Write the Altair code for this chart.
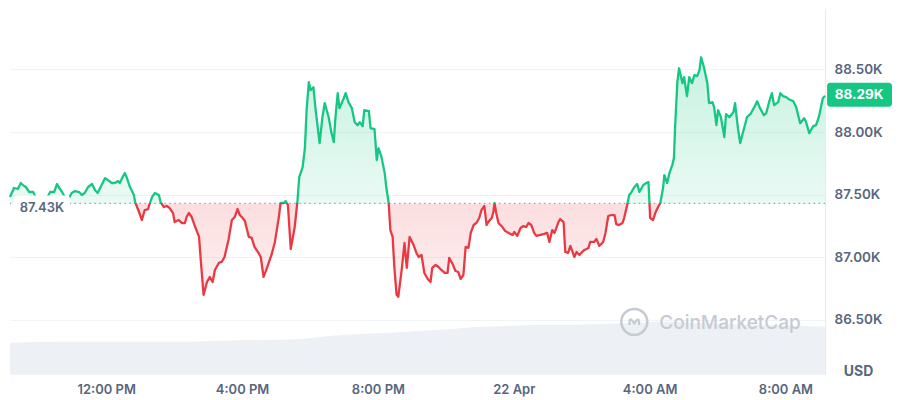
import altair as alt
import pandas as pd

# ---- data (minutes after 21 Apr 09:10, price in USD) ----
minutes = [0, 7, 14, 19, 25, 28, 34, 41, 49, 62, 71, 78, 83, 86, 92, 101, 109, 115, 122, 127,
           132, 138, 145, 150, 155, 161, 168, 173, 180, 185, 191, 194, 198, 203, 206, 212, 219, 221, 228, 233,
           238, 244, 246, 251, 256, 263, 266, 272, 277, 282, 288, 291, 298, 304, 309, 312, 316, 321, 326, 334,
           337, 342, 348, 353, 358, 362, 369, 374, 379, 386, 392, 397, 402, 406, 411, 415, 422, 427, 432, 439,
           443, 448, 454, 457, 462, 468, 475, 478, 484, 487, 491, 496, 503, 508, 511, 517, 521, 524, 528, 531,
           536, 540, 547, 552, 556, 563, 568, 572, 575, 579, 582, 589, 593, 598, 604, 609, 614, 618, 623, 626,
           634, 637, 644, 648, 651, 656, 662, 665, 669, 672, 676, 679, 683, 686, 692, 697, 701, 706, 713, 718,
           722, 727, 732, 738, 743, 746, 752, 757, 762, 768, 773, 776, 782, 787, 792, 796, 801, 805, 810, 814,
           819, 824, 829, 833, 838, 842, 845, 851, 854, 856, 859, 863, 870, 875, 881, 888, 891, 896, 902, 907,
           912, 916, 921, 926, 930, 937, 944, 949, 953, 958, 962, 969, 972, 978, 981, 986, 990, 997, 1001, 1006,
           1011, 1015, 1022, 1025, 1032, 1036, 1041, 1048, 1052, 1057, 1062, 1068, 1071, 1076, 1082, 1085, 1090, 1094, 1097, 1103,
           1108, 1112, 1119, 1124, 1128, 1131, 1136, 1140, 1145, 1149, 1154, 1156, 1161, 1165, 1170, 1173, 1175, 1179, 1182, 1188,
           1191, 1196, 1200, 1205, 1209, 1214, 1218, 1221, 1226, 1232, 1235, 1241, 1244, 1248, 1251, 1256, 1262, 1265, 1271, 1278,
           1281, 1286, 1290, 1297, 1302, 1308, 1315, 1320, 1325, 1332, 1336, 1341, 1346, 1350, 1357, 1361, 1366, 1371, 1376, 1384,
           1389, 1396, 1403, 1406, 1412, 1419, 1424, 1429, 1436, 1440]
prices = [87481, 87553, 87545, 87593, 87569, 87561, 87521, 87521, 87440, 87445, 87521, 87521, 87585, 87561, 87521, 87445, 87513, 87529, 87521, 87497,
          87513, 87561, 87585, 87537, 87513, 87569, 87632, 87616, 87593, 87593, 87608, 87593, 87632, 87672, 87640, 87561, 87497, 87441, 87361, 87297,
          87377, 87385, 87417, 87481, 87513, 87497, 87441, 87401, 87409, 87393, 87353, 87281, 87297, 87273, 87273, 87321, 87353, 87321, 87257, 87162,
          86978, 86699, 86802, 86842, 86802, 86898, 86954, 86962, 87002, 87138, 87297, 87321, 87385, 87337, 87313, 87289, 87162, 87154, 87082, 87034,
          87002, 86842, 86914, 86954, 87018, 87122, 87321, 87433, 87433, 87449, 87417, 87066, 87241, 87457, 87640, 87720, 87872, 88175, 88399, 88335,
          88359, 88175, 87912, 88119, 88231, 88119, 87992, 87920, 88119, 88311, 88191, 88263, 88311, 88239, 88191, 88079, 88055, 88079, 88047, 88175,
          88167, 88032, 88024, 87776, 87872, 87808, 87672, 87553, 87433, 87217, 87162, 86922, 86699, 86683, 86898, 87114, 86914, 87162, 87098, 87034,
          87002, 87018, 86874, 86826, 86802, 86914, 86938, 86922, 86898, 86874, 86874, 86994, 86946, 86890, 86882, 86826, 86858, 87082, 87074, 87194,
          87257, 87273, 87313, 87377, 87409, 87257, 87281, 87313, 87361, 87433, 87353, 87273, 87241, 87209, 87194, 87178, 87202, 87170, 87233, 87249,
          87241, 87273, 87257, 87194, 87170, 87178, 87186, 87194, 87122, 87217, 87194, 87281, 87305, 87281, 87042, 87034, 87090, 87002, 87042, 87018,
          87042, 87058, 87074, 87122, 87122, 87146, 87090, 87122, 87194, 87329, 87337, 87337, 87265, 87257, 87273, 87313, 87409, 87497, 87513, 87561,
          87585, 87521, 87577, 87593, 87600, 87313, 87297, 87353, 87401, 87433, 87561, 87656, 87593, 87672, 87736, 87792, 88039, 88399, 88510, 88391,
          88439, 88287, 88439, 88391, 88455, 88447, 88494, 88598, 88518, 88391, 88231, 88239, 88199, 88055, 88175, 88119, 87960, 88143, 88119, 88159,
          88231, 88032, 87912, 88032, 88119, 88143, 88199, 88247, 88191, 88135, 88151, 88239, 88311, 88215, 88239, 88311, 88287, 88279, 88263, 88247,
          88199, 88071, 88111, 88087, 87992, 88047, 88055, 88119, 88271, 88290]

vol_minutes = [0, 92, 198, 304, 374, 445, 515, 568, 621, 674, 727, 780, 833, 886, 939, 992,
               1045, 1098, 1151, 1204, 1256, 1327, 1398, 1440]
vol_values = [21.8, 22.5, 22.5, 22.5, 23.2, 23.8, 24.5, 26.6, 27.9, 28.6, 30.0, 31.3, 32.7, 33.4, 34.1, 34.1,
              34.7, 35.4, 36.1, 35.4, 34.7, 34.1, 33.4, 32.7]

base_price = 87430
y_ticks = [86500, 87000, 87500, 88000, 88500]

GREEN = "#16c784"
RED = "#ea3943"
GREY = "#58667e"
FONT = "Inter"

start = pd.Timestamp("2025-04-21 09:10")
df = pd.DataFrame({"time": start + pd.to_timedelta(minutes, unit="min"), "price": prices})
df["base"] = base_price
vdf = pd.DataFrame({"time": start + pd.to_timedelta(vol_minutes, unit="min"), "vol": vol_values})
last_df = pd.DataFrame({"price": [prices[-1]], "label": [f"{prices[-1] / 1000:.2f}K"]})
base_df = pd.DataFrame({"price": [base_price], "label": [f"{base_price / 1000:.2f}K"]})
one = pd.DataFrame({"a": [0]})

pmax, pmin = max(prices), min(prices)
f = (pmax - base_price) / (pmax - pmin)

xscale = alt.Scale(domain=[alt.DateTime(year=2025, month=4, date=21, hours=9, minutes=10),
                           alt.DateTime(year=2025, month=4, date=22, hours=9, minutes=10)])
yscale = alt.Scale(domain=[86060, 88990], nice=False, zero=False)

tick_times = [alt.DateTime(year=2025, month=4, date=21, hours=12),
              alt.DateTime(year=2025, month=4, date=21, hours=16),
              alt.DateTime(year=2025, month=4, date=21, hours=20),
              alt.DateTime(year=2025, month=4, date=22, hours=0),
              alt.DateTime(year=2025, month=4, date=22, hours=4),
              alt.DateTime(year=2025, month=4, date=22, hours=8)]

xaxis = alt.Axis(values=tick_times,
                 labelExpr="hours(datum.value) == 0 ? timeFormat(datum.value, '%d %b') : timeFormat(datum.value, '%-I:%M %p')",
                 title=None, grid=False, domain=False, ticks=False, labelPadding=9,
                 labelFontSize=13, labelColor=GREY, labelFont=FONT, labelFontWeight=600)
yaxis = alt.Axis(orient="right", values=y_ticks,
                 labelExpr="format(datum.value / 1000, '.2f') + 'K'",
                 grid=True, gridColor="#eff2f5", domain=True, domainColor="#e6e9ee",
                 ticks=False, labelPadding=9, labelFontSize=13.5, labelColor=GREY, labelFont=FONT,
                 labelFontWeight=600, title="USD", titleAngle=0, titleX=33, titleY=364,
                 titleAlign="center", titleBaseline="middle", titleFontSize=14, titleFont=FONT,
                 titleFontWeight=700, titleColor=GREY)

X = alt.X("time:T", scale=xscale, axis=xaxis)
Y = alt.Y("price:Q", scale=yscale, axis=yaxis)

area_grad = alt.Gradient(gradient="linear", x1=0, x2=0, y1=0, y2=1, stops=[
    alt.GradientStop(offset=0, color="rgba(22,199,132,0.24)"),
    alt.GradientStop(offset=f, color="rgba(22,199,132,0.09)"),
    alt.GradientStop(offset=f, color="rgba(234,57,67,0.17)"),
    alt.GradientStop(offset=1, color="rgba(234,57,67,0.07)"),
])
line_grad = alt.Gradient(gradient="linear", x1=0, x2=0, y1=0, y2=1, stops=[
    alt.GradientStop(offset=0, color=GREEN),
    alt.GradientStop(offset=f, color=GREEN),
    alt.GradientStop(offset=f, color=RED),
    alt.GradientStop(offset=1, color=RED),
])

volume = alt.Chart(vdf).mark_area(color="#edf0f4", interpolate="monotone").encode(
    x=X,
    y=alt.Y("vol:Q", scale=alt.Scale(domain=[0, 250]), axis=None),
)

area = alt.Chart(df).mark_area(fill=area_grad).encode(x=X, y=Y, y2="base:Q")
rule = alt.Chart(base_df).mark_rule(color="#9aa3b2", strokeDash=[1.5, 3.5], strokeWidth=1.2).encode(y=Y)
line = alt.Chart(df).mark_line(stroke=line_grad, strokeWidth=2.3, strokeJoin="round").encode(x=X, y=Y)
label_box = alt.Chart(base_df).mark_rect(fill="white", cornerRadius=3, yOffset=-8, y2Offset=14).encode(
    x=alt.value(4), x2=alt.value(60), y=Y, y2="price:Q",
)
label_text = alt.Chart(base_df).mark_text(align="center", baseline="middle", dy=5, fontSize=13,
                                          fontWeight=600, font=FONT, color=GREY).encode(
    x=alt.value(32), y=Y, text="label:N",
)
badge = alt.Chart(last_df).mark_rect(fill=GREEN, cornerRadius=3, yOffset=-13, y2Offset=11).encode(
    x=alt.value(818), x2=alt.value(883), y=Y, y2="price:Q",
)
badge_text = alt.Chart(last_df).mark_text(align="center", baseline="middle", dy=-1, fontSize=13.5,
                                          fontWeight=700, font=FONT, color="white").encode(
    x=alt.value(850), y=Y, text="label:N",
)
wm_text = alt.Chart(one).mark_text(text="CoinMarketCap", align="left", baseline="middle", fontSize=19,
                                   font=FONT, fontWeight=500, color="#c5cbd3").encode(
    x=alt.value(650), y=alt.value(315),
)
wm_ring = alt.Chart(one).mark_point(shape="circle", filled=False, size=676, strokeWidth=2.5,
                                    color="#c5cbd3", opacity=1).encode(
    x=alt.value(625), y=alt.value(314),
)
wm_m = alt.Chart(one).mark_point(shape="M -0.6 0.4 L -0.6 -0.1 Q -0.6 -0.45 -0.3 -0.2 L 0 0.2 L 0.3 -0.2 Q 0.55 -0.45 0.6 -0.05 L 0.6 0.4",
                                 filled=False, size=250, strokeWidth=2.2, color="#c5cbd3", opacity=1).encode(
    x=alt.value(625), y=alt.value(314),
)

price_layer = alt.layer(area, rule, line, label_box, label_text, badge, badge_text, wm_ring, wm_m, wm_text)

chart = alt.layer(volume, price_layer).resolve_scale(y="independent").properties(
    width=816, height=367, padding=0, background="white"
).configure_view(stroke=None)

chart.save("out.html", embed_options={"renderer": "svg", "actions": False})
